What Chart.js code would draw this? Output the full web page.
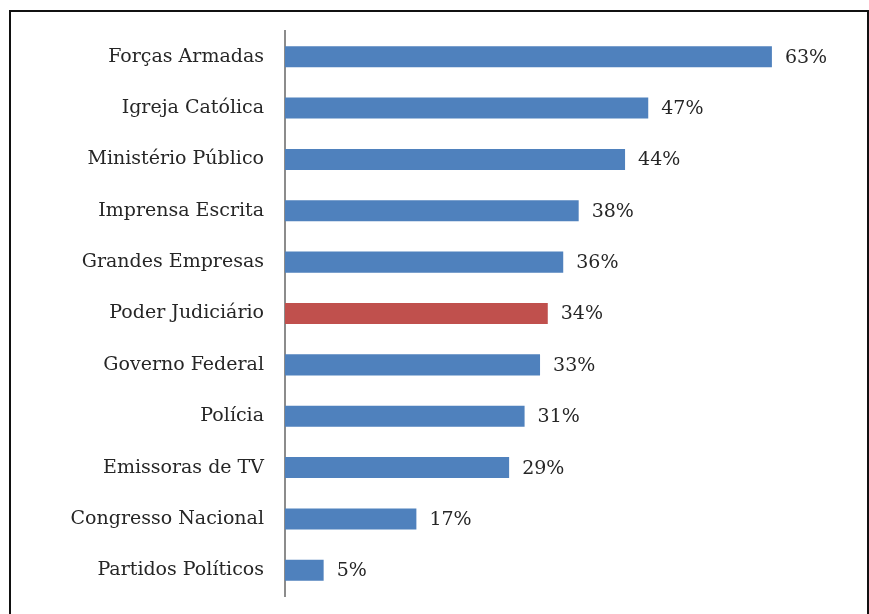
<!DOCTYPE html>
<html>
<head>
<meta charset="utf-8">
<script src="https://cdn.jsdelivr.net/npm/chart.js@4/dist/chart.umd.min.js"></script>
<style>
    html, body { margin: 0; padding: 0; background: #fff; }
    #wrap { position: relative; width: 869px; height: 614px; overflow: hidden; }
    #frame {
        position: absolute; left: 9px; top: 10px; width: 860px; height: 620px;
        border: 2px solid #111; box-sizing: border-box;
    }
    #chart { position: absolute; left: 0; top: 0; }
</style>
</head>
<body>
<div id="wrap">
    <div id="frame"></div>
    <canvas id="chart" width="869" height="614"></canvas>
</div>
<script>
// Confiança nas instituições (%)
const categories = [
    'Forças Armadas', 'Igreja Católica', 'Ministério Público', 'Imprensa Escrita',
    'Grandes Empresas', 'Poder Judiciário', 'Governo Federal', 'Polícia',
    'Emissoras de TV', 'Congresso Nacional', 'Partidos Políticos'
];
const values = [63, 47, 44, 38, 36, 34, 33, 31, 29, 17, 5];
const highlight = 'Poder Judiciário';

const BLUE = '#4f81bd';
const RED = '#c0504d';
const FONT = 'DejaVu Serif';

// Rótulos de valor na ponta das barras
const valueLabels = {
    id: 'valueLabels',
    afterDatasetsDraw(chart) {
        const ctx = chart.ctx;
        const meta = chart.getDatasetMeta(0);
        ctx.save();
        ctx.font = `19px "${FONT}"`;
        ctx.fillStyle = '#262626';
        ctx.textAlign = 'left';
        ctx.textBaseline = 'middle';
        meta.data.forEach((bar, i) => {
            ctx.fillText(values[i] + '%', bar.x + 13, bar.y + 1);
        });
        ctx.restore();
    }
};

new Chart(document.getElementById('chart'), {
    type: 'bar',
    data: {
        labels: categories,
        datasets: [{
            data: values,
            backgroundColor: categories.map(c => c === highlight ? RED : BLUE),
            borderWidth: 0,
            barPercentage: 0.41,
            categoryPercentage: 1
        }]
    },
    options: {
        indexAxis: 'y',
        responsive: false,
        animation: false,
        layout: { padding: { top: 31, bottom: 18, left: 0, right: 43 } },
        plugins: {
            legend: { display: false },
            tooltip: { enabled: false }
        },
        scales: {
            x: {
                display: false,
                min: 0,
                max: 70
            },
            y: {
                afterFit(scale) {
                    scale.width = 285;
                    scale.paddingTop = 0;
                    scale.paddingBottom = 0;
                },
                grid: { display: false, drawTicks: false },
                border: { display: true, color: '#8c8c8c', width: 2 },
                ticks: {
                    padding: 21,
                    color: '#262626',
                    font: { family: FONT, size: 19 }
                }
            }
        }
    },
    plugins: [valueLabels]
});
</script>
</body>
</html>
